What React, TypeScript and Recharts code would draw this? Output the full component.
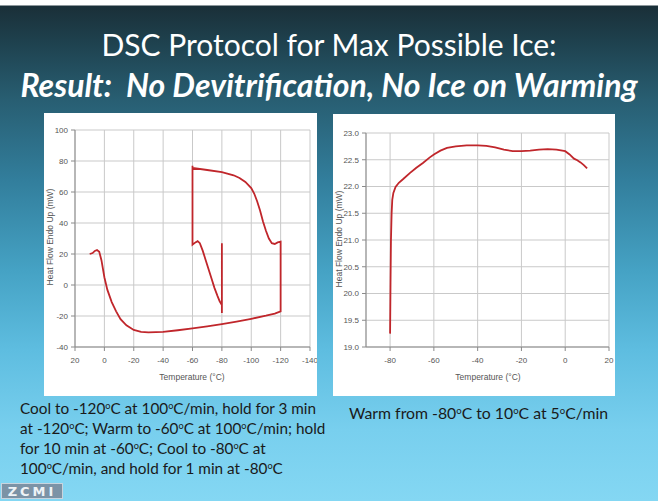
import React from "react";
import { LineChart, Line, XAxis, YAxis, CartesianGrid } from "recharts";

// Left chart: cooling / hold / warming / hold protocol trace (path in time order)
const leftTemps = [
  10, 8, 6.5, 5, 3.5, 2, 0, -2, -5, -8, -11, -15, -20, -25, -30, -40, -50, -60, -70, -80, -90, -100, -110, -116, -120,
  -120, -118, -116, -114, -112, -110, -108, -106, -104, -102, -100, -96, -92, -88, -80, -70, -60,
  -60, -60, -62, -63.5, -65, -67, -69, -71, -73, -75, -77, -78.5, -80,
  -80, -80,
];
const leftHeat = [
  20, 20.6, 22, 22.6, 21.5, 16, 5, -3, -11, -17, -22, -26, -29, -30.3, -30.6, -30.2, -29.2, -28, -26.7, -25.2, -23.6, -21.8, -19.8, -18.4, -17,
  28, 27.5, 26.5, 27, 30, 35, 41, 48, 54, 59, 62.5, 66.5, 69, 70.8, 72.8, 74.2, 75.5,
  77, 26, 27.5, 28.3, 27, 22, 16, 10, 4, -2, -7, -10.5, -13,
  -18, 27,
];
const leftXTicks = [20, 0, -20, -40, -60, -80, -100, -120, -140];
const leftYTicks = [-40, -20, 0, 20, 40, 60, 80, 100];

// Right chart: warming from -80 to 10 C at 5 C/min
const rightTemps = [
  -80, -79.8, -79.6, -79.3, -79, -78.5, -77.5, -76, -74, -71, -68, -65, -62, -60, -57, -54, -50, -45, -40, -36,
  -32, -28, -24, -20, -16, -12, -8, -4, 0, 2, 4, 5.5, 7, 8.5, 10,
];
const rightHeat = [
  19.25, 20.2, 21.0, 21.5, 21.75, 21.88, 21.99, 22.07, 22.14, 22.25, 22.35, 22.44, 22.54, 22.6, 22.67, 22.72, 22.75, 22.77, 22.77, 22.76,
  22.73, 22.69, 22.66, 22.66, 22.67, 22.69, 22.7, 22.69, 22.66, 22.6, 22.52, 22.49, 22.45, 22.4, 22.34,
];
const rightXTicks = [-80, -60, -40, -20, 0, 20];
const rightYTicks = [19, 19.5, 20, 20.5, 21, 21.5, 22, 22.5, 23];

const leftData = leftTemps.map((t, i) => ({ t, h: leftHeat[i] }));
const rightData = rightTemps.map((t, i) => ({ t, h: rightHeat[i] }));

const tickStyle = { fontSize: 8, fill: "#555", fontFamily: "Liberation Sans, Arial, sans-serif" };
const axisLabel: React.CSSProperties = {
  position: "absolute",
  fontSize: 8.5,
  color: "#555",
  fontFamily: "Liberation Sans, Arial, sans-serif",
  whiteSpace: "nowrap",
};
const LINE = "#c0262b";
const GRID = "#c9c9c9";
const AXIS = "#8a8a8a";

const Deg = () => <sup style={{ fontSize: "0.6em", verticalAlign: "0.55em", lineHeight: 0 }}>o</sup>;

export default function App() {
  return (
    <div
      style={{
        position: "absolute",
        left: 0,
        top: 0,
        width: 658,
        height: 501,
        overflow: "hidden",
        background:
          "linear-gradient(180deg, #ffffff 0px, #ffffff 5px, #1a2f38 6px, #1e404d 40px, #285e72 100px, #327e9c 180px, #45a2c4 270px, #5ebde0 350px, #78cfee 430px, #84d7f3 501px)",
        fontFamily: "Lato, sans-serif",
      }}
    >
      <div
        style={{
          position: "absolute",
          left: 0,
          width: 658,
          top: 27,
          textAlign: "center",
          color: "#ffffff",
          fontSize: 30,
          lineHeight: "34px",
        }}
      >
        DSC Protocol for Max Possible Ice:
      </div>
      <div
        style={{
          position: "absolute",
          left: 0,
          width: 658,
          top: 68,
          textAlign: "center",
          color: "#ffffff",
          fontSize: 32,
          fontWeight: 700,
          fontStyle: "italic",
          lineHeight: "34px",
          whiteSpace: "pre",
        }}
      >
        {"Result:  No Devitrification, No Ice on Warming"}
      </div>

      {/* Left panel */}
      <div style={{ position: "absolute", left: 44, top: 113, width: 273, height: 283, background: "#fff" }}>
        <LineChart width={273} height={283} data={leftData} margin={{ top: 17, right: 7, left: 0, bottom: 0 }}>
          <CartesianGrid stroke={GRID} strokeWidth={1} />
          <XAxis
            dataKey="t"
            type="number"
            domain={[-140, 20]}
            reversed
            ticks={leftXTicks}
            interval={0}
            height={49}
            tickSize={4}
            tickMargin={6}
            tick={tickStyle}
            stroke={AXIS}
          />
          <YAxis
            type="number"
            domain={[-40, 100]}
            ticks={leftYTicks}
            interval={0}
            width={31}
            tickSize={4}
            tickMargin={3}
            tick={tickStyle}
            stroke={AXIS}
          />
          <Line dataKey="h" stroke={LINE} strokeWidth={1.8} dot={false} isAnimationActive={false} type="linear" />
        </LineChart>
        <div style={{ ...axisLabel, left: 148 - 50, width: 100, textAlign: "center", top: 259 }}>Temperature (°C)</div>
        <div
          style={{
            ...axisLabel,
            left: 6 - 60,
            width: 120,
            textAlign: "center",
            top: 125 - 6,
            transform: "rotate(-90deg)",
          }}
        >
          Heat Flow Endo Up (mW)
        </div>
      </div>

      {/* Right panel */}
      <div style={{ position: "absolute", left: 333, top: 114, width: 282, height: 282, background: "#fff" }}>
        <LineChart width={282} height={282} data={rightData} margin={{ top: 19, right: 6, left: 0, bottom: 0 }}>
          <CartesianGrid stroke={GRID} strokeWidth={1} />
          <XAxis
            dataKey="t"
            type="number"
            domain={[-91, 20]}
            ticks={rightXTicks}
            interval={0}
            height={49}
            tickSize={4}
            tickMargin={6}
            tick={tickStyle}
            stroke={AXIS}
          />
          <YAxis
            type="number"
            domain={[19, 23]}
            ticks={rightYTicks}
            interval={0}
            width={33}
            tickSize={4}
            tickMargin={3}
            tick={tickStyle}
            tickFormatter={(v: number) => v.toFixed(1)}
            stroke={AXIS}
          />
          <Line dataKey="h" stroke={LINE} strokeWidth={1.8} dot={false} isAnimationActive={false} type="linear" />
        </LineChart>
        <div style={{ ...axisLabel, left: 155 - 50, width: 100, textAlign: "center", top: 258 }}>Temperature (°C)</div>
        <div
          style={{
            ...axisLabel,
            left: 6 - 60,
            width: 120,
            textAlign: "center",
            top: 126 - 6,
            transform: "rotate(-90deg)",
          }}
        >
          Heat Flow Endo Up (mW)
        </div>
      </div>

      {/* Captions */}
      <div
        style={{
          position: "absolute",
          left: 20,
          top: 398,
          width: 330,
          fontSize: 15.3,
          lineHeight: "20px",
          color: "#1a1a1a",
          whiteSpace: "nowrap",
        }}
      >
        Cool to -120<Deg />C at 100<Deg />C/min, hold for 3 min
        <br />
        at -120<Deg />C; Warm to -60<Deg />C at 100<Deg />C/min; hold
        <br />
        for 10 min at -60<Deg />C; Cool to -80<Deg />C at
        <br />
        100<Deg />C/min, and hold for 1 min at -80<Deg />C
      </div>
      <div
        style={{
          position: "absolute",
          left: 349,
          top: 403,
          fontSize: 15.8,
          lineHeight: "20px",
          color: "#1a1a1a",
          whiteSpace: "nowrap",
        }}
      >
        Warm from -80<Deg />C to 10<Deg />C at 5<Deg />C/min
      </div>

      {/* Logo */}
      <div
        style={{
          position: "absolute",
          left: 1,
          top: 483,
          width: 62,
          height: 16,
          background: "#7c93a6",
          border: "1px solid #c8d4de",
          color: "#eef3f7",
          fontFamily: "DejaVu Sans, sans-serif",
          fontWeight: 700,
          fontSize: 13,
          lineHeight: "16px",
          letterSpacing: 3,
          textAlign: "center",
          boxSizing: "border-box",
        }}
      >
        ZCMI
      </div>
    </div>
  );
}
